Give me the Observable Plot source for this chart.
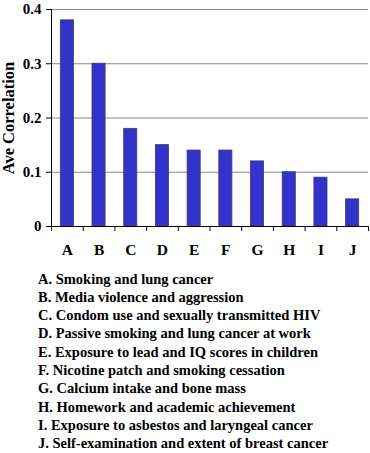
<!DOCTYPE html>
<html>
<head>
<meta charset="utf-8">
<script src="https://cdn.jsdelivr.net/npm/d3@7"></script>
<script src="https://cdn.jsdelivr.net/npm/@observablehq/plot@0.6"></script>
<style>
  html, body { margin: 0; padding: 0; background: #fff; }
  #chart svg { display: block; }
  #legend {
    margin: 7.5px 0 0 38px;
    font-family: "Liberation Serif", "Times New Roman", serif;
    font-weight: bold;
    font-size: 14.5px;
    line-height: 18.3px;
    color: #000;
    white-space: nowrap;
  }
</style>
</head>
<body>
<div id="chart"></div>
<div id="legend"></div>
<script>
const categories = ["A", "B", "C", "D", "E", "F", "G", "H", "I", "J"];
const values = [0.38, 0.30, 0.18, 0.15, 0.14, 0.14, 0.12, 0.10, 0.09, 0.05];
const descriptions = [
  "Smoking and lung cancer",
  "Media violence and aggression",
  "Condom use and sexually transmitted HIV",
  "Passive smoking and lung cancer at work",
  "Exposure to lead and IQ scores in children",
  "Nicotine patch and smoking cessation",
  "Calcium intake and bone mass",
  "Homework and academic achievement",
  "Exposure to asbestos and laryngeal cancer",
  "Self-examination and extent of breast cancer"
];
const yTicks = [0, 0.1, 0.2, 0.3, 0.4];
const yLabel = "Ave Correlation";

const data = categories.map((c, i) => ({cat: c, idx: i, value: values[i]}));
const boundaries = d3.range(categories.length + 1);

const font = '"Liberation Serif", "Times New Roman", serif';

const chart = Plot.plot({
  width: 370,
  height: 262,
  marginLeft: 51,
  marginRight: 2,
  marginTop: 9,
  marginBottom: 36,
  style: {fontFamily: font, fontWeight: "bold", background: "#fff", color: "#000"},
  x: {domain: [0, categories.length], axis: null},
  y: {domain: [0, 0.4], axis: null},
  marks: [
    Plot.gridY(yTicks.filter(d => d > 0), {stroke: "#888", strokeOpacity: 1, strokeWidth: 1}),
    Plot.axisY({
      ticks: yTicks,
      tickSize: 5,
      tickPadding: 5,
      tickFormat: d => d === 0 ? "0" : d.toFixed(1),
      fontSize: 15,
      label: yLabel,
      labelAnchor: "center",
      labelArrow: "none",
      labelOffset: 49,
      stroke: "#000"
    }),
    Plot.ruleX([0], {stroke: "#000"}),
    Plot.rectY(data, {
      x1: "idx",
      x2: d => d.idx + 1,
      y: "value",
      insetLeft: 9.3,
      insetRight: 9.3,
      fill: "#3333CC",
      stroke: "#3a3a6a",
      strokeWidth: 0.8
    }),
    Plot.ruleY([0], {stroke: "#000"}),
    Plot.axisX({ticks: boundaries, tickSize: 5, tickFormat: () => "", label: null, stroke: "#000"}),
    Plot.text(data, {
      x: d => d.idx + 0.5,
      y: 0,
      text: "cat",
      dy: 24,
      fontSize: 15.5,
      fill: "#000"
    })
  ]
});
document.getElementById("chart").appendChild(chart);
chart.querySelectorAll("text").forEach(t => t.setAttribute("font-weight", "bold"));
chart.querySelectorAll('[aria-label="y-axis label"] text').forEach(t => t.setAttribute("font-size", 16.5));

const legend = document.getElementById("legend");
categories.forEach((c, i) => {
  const div = document.createElement("div");
  div.textContent = `${c}. ${descriptions[i]}`;
  legend.appendChild(div);
});
</script>
</body>
</html>
